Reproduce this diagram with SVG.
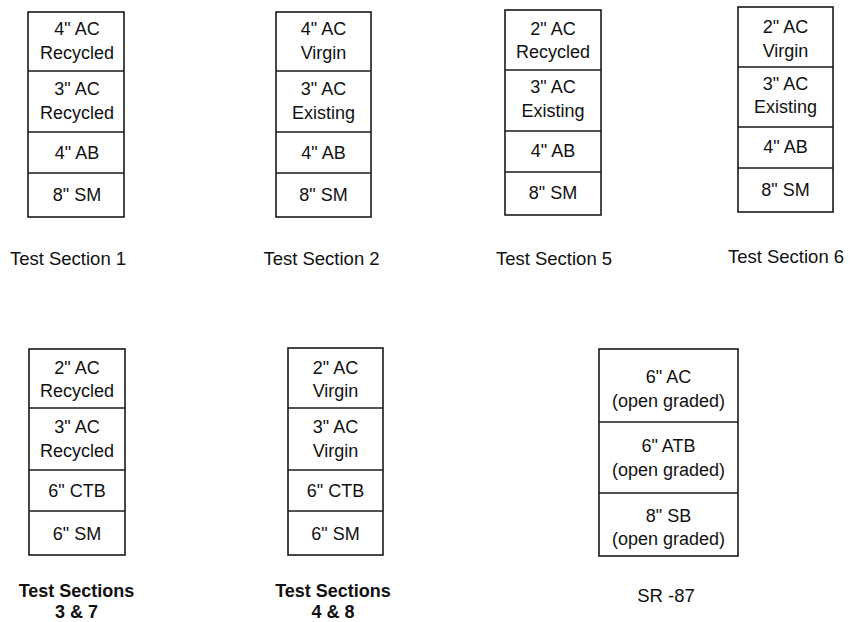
<svg xmlns="http://www.w3.org/2000/svg" width="852" height="622" viewBox="0 0 852 622">
<style>
.box{fill:#fff;stroke:#1a1a1a;stroke-width:1.6}
.div{stroke:#1a1a1a;stroke-width:1.6}
text{font-family:"Liberation Sans",Arial,Helvetica,sans-serif;fill:#111;text-anchor:middle}
.t{font-size:18px}
.lbl{font-size:18.5px}
.blbl{font-size:18px;font-weight:bold}
</style>
<rect width="852" height="622" fill="#fff"/>

<g id="ts1">
<rect class="box" x="28" y="12" width="96" height="205"/>
<line class="div" x1="28" y1="71" x2="124" y2="71"/>
<line class="div" x1="28" y1="132" x2="124" y2="132"/>
<line class="div" x1="28" y1="173" x2="124" y2="173"/>
<text class="t" x="77" y="35">4" AC</text>
<text class="t" x="77" y="59">Recycled</text>
<text class="t" x="77" y="95">3" AC</text>
<text class="t" x="77" y="119">Recycled</text>
<text class="t" x="77" y="159">4" AB</text>
<text class="t" x="77" y="201">8" SM</text>
<text class="lbl" x="68" y="265">Test Section 1</text>
</g>

<g id="ts2">
<rect class="box" x="276" y="12" width="95" height="205"/>
<line class="div" x1="276" y1="71" x2="371" y2="71"/>
<line class="div" x1="276" y1="132" x2="371" y2="132"/>
<line class="div" x1="276" y1="173" x2="371" y2="173"/>
<text class="t" x="323.5" y="35">4" AC</text>
<text class="t" x="323.5" y="59">Virgin</text>
<text class="t" x="323.5" y="95">3" AC</text>
<text class="t" x="323.5" y="119">Existing</text>
<text class="t" x="323.5" y="159">4" AB</text>
<text class="t" x="323.5" y="201">8" SM</text>
<text class="lbl" x="321.5" y="265">Test Section 2</text>
</g>

<g id="ts5">
<rect class="box" x="505" y="10" width="96" height="205"/>
<line class="div" x1="505" y1="70" x2="601" y2="70"/>
<line class="div" x1="505" y1="131" x2="601" y2="131"/>
<line class="div" x1="505" y1="172" x2="601" y2="172"/>
<text class="t" x="553" y="35">2" AC</text>
<text class="t" x="553" y="58">Recycled</text>
<text class="t" x="553" y="93">3" AC</text>
<text class="t" x="553" y="117">Existing</text>
<text class="t" x="553" y="157">4" AB</text>
<text class="t" x="553" y="199">8" SM</text>
<text class="lbl" x="554" y="265">Test Section 5</text>
</g>

<g id="ts6">
<rect class="box" x="738" y="7" width="95" height="205"/>
<line class="div" x1="738" y1="67" x2="833" y2="67"/>
<line class="div" x1="738" y1="127" x2="833" y2="127"/>
<line class="div" x1="738" y1="168" x2="833" y2="168"/>
<text class="t" x="785.5" y="33">2" AC</text>
<text class="t" x="785.5" y="57">Virgin</text>
<text class="t" x="785.5" y="90">3" AC</text>
<text class="t" x="785.5" y="113">Existing</text>
<text class="t" x="785.5" y="153">4" AB</text>
<text class="t" x="785.5" y="196">8" SM</text>
<text class="lbl" x="786" y="263">Test Section 6</text>
</g>

<g id="ts37">
<rect class="box" x="29" y="349" width="96" height="206"/>
<line class="div" x1="29" y1="408" x2="125" y2="408"/>
<line class="div" x1="29" y1="470" x2="125" y2="470"/>
<line class="div" x1="29" y1="511" x2="125" y2="511"/>
<text class="t" x="77" y="374">2" AC</text>
<text class="t" x="77" y="397">Recycled</text>
<text class="t" x="77" y="433">3" AC</text>
<text class="t" x="77" y="457">Recycled</text>
<text class="t" x="77" y="497">6" CTB</text>
<text class="t" x="77" y="540">6" SM</text>
<text class="blbl" x="76.5" y="597">Test Sections</text>
<text class="blbl" x="76.5" y="618">3 &amp; 7</text>
</g>

<g id="ts48">
<rect class="box" x="288" y="348" width="95" height="207"/>
<line class="div" x1="288" y1="408" x2="383" y2="408"/>
<line class="div" x1="288" y1="470" x2="383" y2="470"/>
<line class="div" x1="288" y1="511" x2="383" y2="511"/>
<text class="t" x="335.5" y="374">2" AC</text>
<text class="t" x="335.5" y="397">Virgin</text>
<text class="t" x="335.5" y="433">3" AC</text>
<text class="t" x="335.5" y="457">Virgin</text>
<text class="t" x="335.5" y="497">6" CTB</text>
<text class="t" x="335.5" y="540">6" SM</text>
<text class="blbl" x="333" y="597">Test Sections</text>
<text class="blbl" x="333" y="618">4 &amp; 8</text>
</g>

<g id="sr87">
<rect class="box" x="599" y="349" width="139" height="207"/>
<line class="div" x1="599" y1="422" x2="738" y2="422"/>
<line class="div" x1="599" y1="493" x2="738" y2="493"/>
<text class="t" x="668.5" y="383">6" AC</text>
<text class="t" x="668.5" y="407">(open graded)</text>
<text class="t" x="668.5" y="452">6" ATB</text>
<text class="t" x="668.5" y="476">(open graded)</text>
<text class="t" x="668.5" y="522">8" SB</text>
<text class="t" x="668.5" y="545">(open graded)</text>
<text class="lbl" x="666" y="602">SR -87</text>
</g>
</svg>
